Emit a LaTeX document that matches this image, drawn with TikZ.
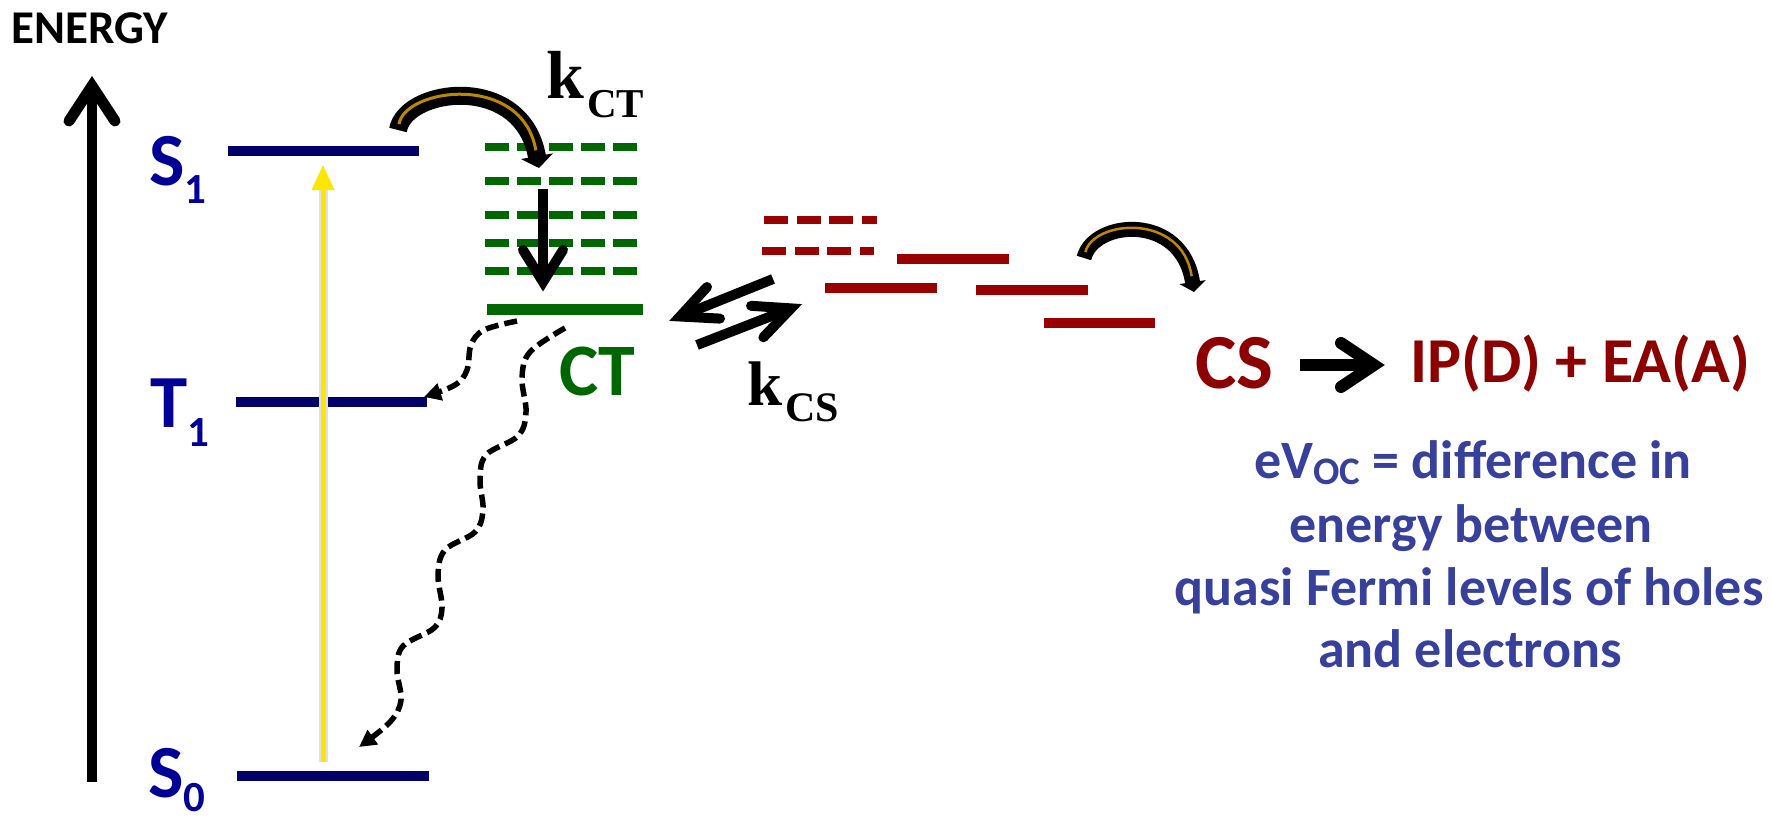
\documentclass[tikz,border=0pt]{standalone}
\usepackage{fontspec}
\setmainfont{Carlito}
\newfontfamily\timesf{Liberation Serif}
\usetikzlibrary{arrows.meta}
\definecolor{levelblue}{RGB}{0,0,105}
\definecolor{labelblue}{RGB}{0,0,150}
\definecolor{ctgreen}{RGB}{0,102,0}
\definecolor{csred}{RGB}{153,0,0}
\definecolor{textred}{RGB}{140,0,0}
\definecolor{textblue}{RGB}{55,65,155}
\definecolor{yellowarrow}{RGB}{255,230,0}
\definecolor{goldfill}{RGB}{190,135,0}
\begin{document}
\begin{tikzpicture}[x=1pt,y=-1pt,
  level/.style={line width=10pt, levelblue},
  ctdash/.style={line width=8pt, ctgreen, dash pattern=on 24pt off 8pt},
  ctsolid/.style={line width=11pt, ctgreen},
  csdash/.style={line width=8pt, csred, dash pattern=on 24pt off 8.5pt},
  cssolid/.style={line width=10pt, csred},
  blackarrow/.style={line width=10pt, black, line cap=round, line join=miter},
  wavy/.style={line width=5.5pt, black, dash pattern=on 13pt off 6pt, -{Triangle[length=17pt,width=17pt]}},
  curveblack/.style={line width=18pt, black, -{Triangle[length=12pt,width=32pt]}},
  curvegold/.style={line width=3pt, goldfill, shorten <=6pt, shorten >=18pt},
  lvllabel/.style={inner sep=0pt, anchor=base west, labelblue, font=\bfseries\fontsize{75}{75}\selectfont},
  ratelabel/.style={inner sep=0pt, anchor=base west, black},
  bluetext/.style={inner sep=0pt, anchor=base, textblue, font=\bfseries\fontsize{54}{54}\selectfont}
]
\useasboundingbox (0,0) rectangle (1771,819);
\fill[white] (0,0) rectangle (1771,819);

% ENERGY axis
\node[inner sep=0pt, anchor=base west, font=\bfseries\fontsize{47}{47}\selectfont] (energy) at (11,43) {ENERGY};
\coordinate (ebot) at (92,782);
\coordinate (etop) at (92,86);
\draw[line width=10pt] (ebot) -- (etop);
\draw[blackarrow, line width=11pt] (69,121) -- (etop) -- (115,121);

% levels
\coordinate (s1a) at (228,151); \coordinate (s1b) at (419,151);
\coordinate (t1a) at (236,402); \coordinate (t1b) at (427,402);
\coordinate (s0a) at (237,776); \coordinate (s0b) at (429,776);
\draw[level] (s1a) -- (s1b);
\draw[level] (t1a) -- (t1b);
\draw[level] (s0a) -- (s0b);
\node[lvllabel] (s1lab) at (149,185) {S\raisebox{-18pt}{\fontsize{43}{43}\selectfont 1}};
\node[lvllabel] (t1lab) at (150,427) {T\raisebox{-19pt}{\fontsize{43}{43}\selectfont 1}};
\node[lvllabel] (s0lab) at (148,797) {S\raisebox{-14pt}{\fontsize{43}{43}\selectfont 0}};

% yellow excitation arrow
\coordinate (ya) at (323,762);
\coordinate (yb) at (323,189);
\draw[black!12, line width=9pt] (ya) -- (yb);
\draw[yellowarrow, line width=5pt] (ya) -- (yb);
\fill[yellowarrow] (311.5,190) -- (323,165) -- (334.5,190) -- cycle;

% CT manifold
\draw[ctdash] (485,147) -- (637,147);
\draw[ctdash] (485,181) -- (637,181);
\draw[ctdash] (485,215) -- (637,215);
\draw[ctdash] (485,243) -- (637,243);
\draw[ctdash] (485,271) -- (637,271);
\coordinate (cta) at (487,309.5); \coordinate (ctb) at (643,309.5);
\draw[ctsolid] (cta) -- (ctb);
\node[inner sep=0pt, anchor=base west, ctgreen, font=\bfseries\fontsize{74}{74}\selectfont] (ctlab) at (559,395) {CT};

% relaxation arrow inside CT
\coordinate (rtop) at (543,189); \coordinate (rtip) at (543,282);
\draw[line width=10pt] (rtop) -- (rtip);
\draw[blackarrow] (523,250) -- (rtip) -- (563,250);

% kCT curved arrow
\coordinate (kcts) at (398,130); \coordinate (kcte) at (539,168);
\draw[curveblack] (kcts) .. controls (405,88) and (522,72) .. (kcte);
\draw[curvegold] (kcts) .. controls (405,88) and (522,72) .. (kcte);
\node[ratelabel, font=\timesf\bfseries\fontsize{68}{68}\selectfont] (kct) at (546,98) {k\kern3pt\raisebox{-19pt}{\fontsize{41}{41}\selectfont CT}};

% CS manifold
\draw[csdash] (764,219.5) -- (877,219.5);
\draw[csdash] (762,251) -- (874,251);
\draw[cssolid] (897,258.5) -- (1009,258.5);
\draw[cssolid] (825,288) -- (937,288);
\draw[cssolid] (976,290) -- (1088,290);
\draw[cssolid] (1044,323) -- (1155,323);

% right curved arrow
\coordinate (rcs) at (1084,258); \coordinate (rce) at (1194,292);
\draw[curveblack, line width=15pt, -{Triangle[length=10pt,width=26pt]}] (rcs) .. controls (1093,220) and (1182,212) .. (rce);
\draw[curvegold, line width=2.5pt, shorten >=16pt] (rcs) .. controls (1093,220) and (1182,212) .. (rce);

% equilibrium arrows CT <-> CS
\coordinate (ua) at (773,279); \coordinate (ut) at (680,316.5);
\draw[line width=10pt] (ua) -- (ut);
\draw[blackarrow] (707,287) -- (ut) -- (720,318.6);
\coordinate (la) at (697,345); \coordinate (lt) at (791,308.4);
\draw[line width=10pt] (la) -- (lt);
\draw[blackarrow] (751,305.8) -- (lt) -- (763.4,337.3);
\node[ratelabel, font=\timesf\bfseries\fontsize{63}{63}\selectfont] (kcs) at (747,405) {k\kern3pt\raisebox{-16pt}{\fontsize{42}{42}\selectfont CS}};

% non-radiative decay (wavy dashed)
\draw[wavy] plot[smooth, tension=0.6] coordinates {(517,321) (484,330) (471,345) (467,370) (455,385) (424,397)};
\draw[wavy] plot[smooth, tension=0.6] coordinates {(565,328) (530,352) (522,378) (526,412) (518,436) (486,455) (480,480) (483,510) (475,532) (445,550) (438,575) (442,608) (434,628) (403,646) (397,670) (401,700) (390,722) (359,747)};

% CS -> IP(D)+EA(A)
\node[inner sep=0pt, anchor=base west, textred, font=\bfseries\fontsize{78}{78}\selectfont] (cslab) at (1195,388) {CS};
\coordinate (csa) at (1300,365); \coordinate (cst) at (1374,365);
\draw[line width=12pt] (csa) -- (cst);
\draw[blackarrow, line width=12pt] (1341,343) -- (cst) -- (1341,387);
\node[inner sep=0pt, anchor=base, textred, font=\bfseries\fontsize{64}{64}\selectfont] (iplab) at (1580,382) {IP(D) + EA(A)};

% explanation
\node[bluetext] (b1) at (1473,478) {eV\raisebox{-6pt}{\fontsize{39}{39}\selectfont OC} = difference in};
\node[bluetext] (b2) at (1471,542) {energy between};
\node[bluetext] (b3) at (1469,605) {quasi Fermi levels of holes};
\node[bluetext] (b4) at (1470,667) {and electrons};
\end{tikzpicture}
\end{document}
